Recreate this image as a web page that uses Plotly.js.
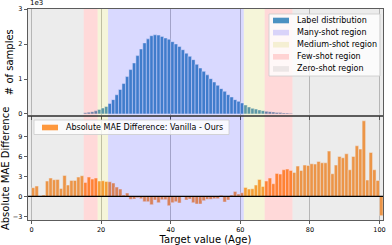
<!DOCTYPE html>
<html>
<head>
<meta charset="utf-8">
<script src="https://cdn.plot.ly/plotly-3.0.1.min.js"></script>
<style>
  html, body { margin: 0; padding: 0; background: #fff; }
</style>
</head>
<body>
<div id="chart" style="width:392px;height:245px"></div>
<script>
// Edades (bins de 1 año, 0..100)
const ages = Array.from({ length: 101 }, (_, i) => i);

// Número de muestras por edad
const labelCounts = [
    0, 0, 0, 0, 0, 0, 0, 0, 0, 0,
    0, 0, 0, 0, 0, 35, 50, 65, 90, 130,
    170, 215, 300, 410, 550, 700, 870, 1070, 1270, 1460,
    1670, 1860, 2035, 2150, 2240, 2266, 2257, 2220, 2175, 2140,
    2070, 2005, 1930, 1840, 1740, 1650, 1555, 1420, 1315, 1220,
    1120, 1010, 915, 820, 725, 648, 552, 486, 410, 360,
    314, 257, 200, 160, 140, 115, 95, 75, 65, 55,
    45, 38, 30, 25, 18, 0, 0, 0, 0, 0,
    0, 0, 0, 0, 0, 0, 0, 0, 0, 0,
    0, 0, 0, 0, 0, 0, 0, 0, 0, 0,
    0
];

// Diferencia de MAE absoluta (Vanilla - Ours) por edad
const maeDiff = [
    1.3, 1.55, 0, 0.2, 2.3, 2.75, 2.5, 2.55, 1.2, 3.15,
    1.7, 2.4, 2.4, 2.9, 3.1, 2.1, 2.9, 2.6, 2.75, 2.3,
    2.35, 2.25, 2.2, 2.0, 1.4, 1.1, 0.2, 0.5, -0.45, -0.4,
    -0.2, -0.35, -0.8, -0.8, -1.25, -0.55, -0.95, -0.5, -0.5, -1.4,
    -0.95, -0.8, -1.0, -0.1, -0.55, -0.4, -0.95, -1.15, -1.15, -0.65,
    -0.45, -0.45, -0.35, -0.35, 0.15, -0.85, -0.55, 0.2, 0.75, 0.35,
    0.55, 1.35, 1.1, 1.15, 1.7, 2.55, 1.5, 2.3, 2.75, 1.9,
    3.45, 3.35, 4.0, 4.1, 3.9, 3.6, 4.55, 3.9, 4.7, 4.65,
    4.9, 4.85, 5.25, 5.05, 5.05, 6.8, 3.4, 4.7, 6.0, 5.8,
    6.4, 4.0, 6.0, 7.6, 7.1, 11.35, 2.45, 6.6, 4.0, 2.4,
    -2.9
];

// Regiones: nombre, color y tramos [inicio, fin]
const regionNames = ['Many-shot region', 'Medium-shot region', 'Few-shot region', 'Zero-shot region'];
const regionColors = ['rgb(0,0,255)', 'rgb(191,191,0)', 'rgb(255,0,0)', 'rgb(128,128,128)'];
const regionSpans = [
    [[22, 61]],
    [[19, 22], [61, 67]],
    [[15, 19], [67, 75]],
    [[-1, 15], [75, 101]]
];

const xTicks = [0, 20, 40, 60, 80, 100];
const countTicks = [0, 1000, 2000, 3000];
const countTickText = ['0', '1', '2', '3'];
const diffTicks = [-3, 0, 3, 6, 9];

const FONT = 'DejaVu Sans, sans-serif';
const W = 392, H = 245;
const M = { l: 28, r: 9, t: 9, b: 25 };
// pasar de píxeles a coordenadas "paper"
const px = x => (x - M.l) / (W - M.l - M.r);
const py = y => (H - M.b - y) / (H - M.t - M.b);

const data = [
    {
        type: 'bar', x: ages, y: labelCounts, xaxis: 'x2', yaxis: 'y2',
        width: 1, offset: 0,
        marker: { color: 'rgba(31,119,180,0.8)', line: { color: 'white', width: 0.5 } },
        name: 'Label distribution', showlegend: false
    },
    {
        type: 'bar', x: ages, y: maeDiff, xaxis: 'x', yaxis: 'y',
        width: 1, offset: 0,
        marker: { color: 'rgba(255,127,14,0.8)', line: { color: 'white', width: 0.5 } },
        name: 'Absolute MAE Difference: Vanilla - Ours', showlegend: false
    }
];

// Sombreado de regiones en ambos paneles (encima de las barras, como axvspan)
const shapes = [];
regionSpans.forEach((spans, i) => {
    spans.forEach(s => {
        ['x2', 'x'].forEach(ax => {
            const ya = ax === 'x2' ? 'y2' : 'y';
            shapes.push({
                type: 'rect', layer: 'above', xref: ax, yref: ya + ' domain',
                x0: s[0], x1: s[1], y0: 0, y1: 1,
                fillcolor: regionColors[i], opacity: 0.15, line: { width: 0 }
            });
        });
    });
});
// línea horizontal en 0
shapes.push({
    type: 'line', layer: 'above', xref: 'x domain', yref: 'y',
    x0: 0, x1: 1, y0: 0, y1: 0, line: { color: 'black', width: 1.3 }
});

// Leyendas dibujadas a mano (para mantener el espaciado compacto)
const annotations = [];
function legend(items, box, x0, yFirst, step) {
    shapes.push({
        type: 'rect', layer: 'above', xref: 'paper', yref: 'paper',
        x0: px(box[0]), x1: px(box[1]), y0: py(box[3]), y1: py(box[2]),
        fillcolor: 'rgba(255,255,255,0.8)', line: { color: '#cccccc', width: 0.8 }
    });
    items.forEach((it, i) => {
        const yc = yFirst + i * step;
        shapes.push({
            type: 'rect', layer: 'above', xref: 'paper', yref: 'paper',
            x0: px(x0), x1: px(x0 + 16), y0: py(yc + 2.8), y1: py(yc - 2.8),
            fillcolor: it.color, line: { width: 0 }
        });
        annotations.push({
            xref: 'paper', yref: 'paper', x: px(x0 + 22), y: py(yc),
            xanchor: 'left', yanchor: 'middle', showarrow: false,
            text: it.name, font: { family: FONT, size: 8, color: '#000' }
        });
    });
}
legend(
    [{ name: 'Label distribution', color: 'rgba(31,119,180,0.8)' }].concat(
        regionNames.map((n, i) => ({ name: n, color: regionColors[i].replace('rgb', 'rgba').replace(')', ',0.15)') }))
    ),
    [269, 380, 14, 76], 273, 20.5, 12.1
);
legend(
    [{ name: 'Absolute MAE Difference: Vanilla - Ours', color: 'rgba(255,127,14,0.8)' }],
    [34, 229, 120, 134.5], 42, 127.5, 0
);

annotations.push({
    xref: 'paper', yref: 'paper', x: 0, y: 1, xanchor: 'left', yanchor: 'bottom',
    showarrow: false, text: '1e3', font: { family: FONT, size: 7, color: '#000' }
});

const axisCommon = {
    showline: true, mirror: true, linecolor: '#333', linewidth: 0.8,
    ticks: 'outside', ticklen: 3.5, tickwidth: 0.8, tickcolor: '#333',
    tickfont: { family: FONT, size: 6.5, color: '#000' },
    zeroline: false
};

const layout = {
    width: W, height: H,
    margin: M,
    paper_bgcolor: 'white', plot_bgcolor: 'white',
    font: { family: FONT, color: '#000' },
    bargap: 0,
    showlegend: false,
    xaxis: Object.assign({}, axisCommon, {
        anchor: 'y', range: [-1, 101], tickvals: xTicks,
        showgrid: true, gridcolor: '#b0b0b0', gridwidth: 0.8,
        title: { text: 'Target value (Age)', font: { family: FONT, size: 10 }, standoff: 4 }
    }),
    xaxis2: Object.assign({}, axisCommon, {
        anchor: 'y2', matches: 'x', range: [-1, 101], tickvals: xTicks, showticklabels: false,
        showgrid: true, gridcolor: '#b0b0b0', gridwidth: 0.8
    }),
    yaxis: Object.assign({}, axisCommon, {
        anchor: 'x', domain: [0, 0.489], range: [-3.55, 11.95], tickvals: diffTicks, showgrid: false,
        title: { text: 'Absolute MAE Difference', font: { family: FONT, size: 10 }, standoff: 2 }
    }),
    yaxis2: Object.assign({}, axisCommon, {
        anchor: 'x2', domain: [0.496, 1], range: [-40, 3005],
        tickvals: countTicks, ticktext: countTickText, showgrid: false,
        title: { text: '# of samples', font: { family: FONT, size: 10 }, standoff: 2 }
    }),
    shapes: shapes,
    annotations: annotations
};

Plotly.newPlot('chart', data, layout, { staticPlot: true, displayModeBar: false });
</script>
</body>
</html>
